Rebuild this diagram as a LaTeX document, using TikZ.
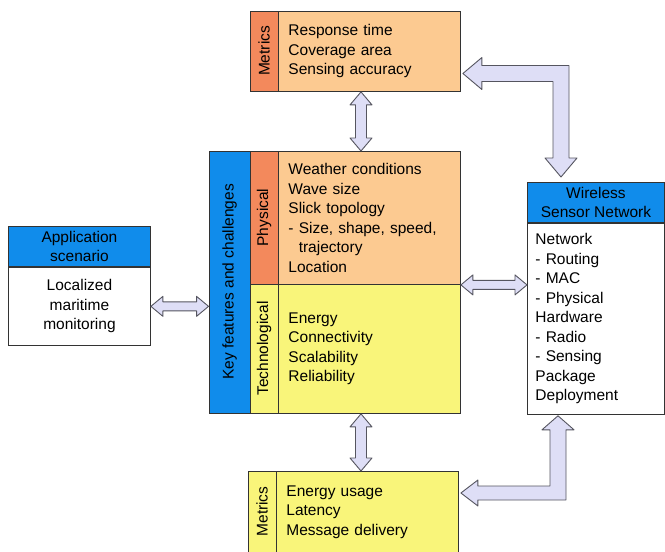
\documentclass[tikz,border=0pt]{standalone}
\usepackage{fontspec}
\setmainfont{Liberation Sans}
\usetikzlibrary{positioning, calc}

\definecolor{headblue}{RGB}{16,140,235}
\definecolor{stripred}{RGB}{243,137,92}
\definecolor{physfill}{RGB}{252,202,145}
\definecolor{techfill}{RGB}{249,245,122}
\definecolor{arrowfill}{RGB}{222,222,246}
\definecolor{arrowdraw}{RGB}{85,85,95}

% fat double arrows, vertical (top to bottom) and horizontal (left to right)
\newcommand{\vdouble}[2]{%
  \path[fat] (#1) -- ($(#1)+(11,13)$) -- ($(#1)+(5.5,13)$) -- ($(#2)+(5.5,-13)$) -- ($(#2)+(11,-13)$) -- (#2)
    -- ($(#2)+(-11,-13)$) -- ($(#2)+(-5.5,-13)$) -- ($(#1)+(-5.5,13)$) -- ($(#1)+(-11,13)$) -- cycle;}
\newcommand{\hdouble}[2]{%
  \path[fat] (#1) -- ($(#1)+(12,-10)$) -- ($(#1)+(12,-4.5)$) -- ($(#2)+(-12,-4.5)$) -- ($(#2)+(-12,-10)$) -- (#2)
    -- ($(#2)+(-12,10)$) -- ($(#2)+(-12,4.5)$) -- ($(#1)+(12,4.5)$) -- ($(#1)+(12,10)$) -- cycle;}

\begin{document}
\begin{tikzpicture}[
    x=1pt, y=-1pt,
    font=\fontsize{15.5}{19.5}\selectfont,
    box/.style={rectangle, draw=black!80, line width=0.9pt, inner sep=0pt},
    strip/.style={box, rotate=90},
    content/.style={box, anchor=north west, align=left, inner xsep=10pt},
    head/.style={box, anchor=north west, fill=headblue, align=center},
    fat/.style={draw=arrowdraw, fill=arrowfill, line width=0.9pt, line join=round}
]
\useasboundingbox (0,0) rectangle (665,552);

% Metrics (top)
\node[strip, fill=stripred, minimum width=80, minimum height=28] (topstrip) at (264,51) {Metrics};
\node[content, fill=physfill, minimum height=80, text width=162] (topmet) at (278,11) {Response time\\Coverage area\\Sensing accuracy};

% Key features and challenges
\node[strip, fill=headblue, minimum width=262, minimum height=41] (key) at (229.5,282) {Key features and challenges};
\node[strip, fill=stripred, minimum width=133, minimum height=28] (physstrip) at (264,217.5) {Physical};
\node[content, fill=physfill, minimum height=133, text width=162] (phys) at (278,151) {Weather conditions\\Wave size\\Slick topology\\- Size, shape, speed,\\\phantom{- }trajectory\\Location};
\node[strip, fill=techfill, minimum width=129, minimum height=28] (techstrip) at (264,348.5) {Technological};
\node[content, fill=techfill, minimum height=129, text width=162] (tech) at (278,284) {Energy\\Connectivity\\Scalability\\Reliability};

% Metrics (bottom)
\node[strip, fill=techfill, minimum width=81, minimum height=28] (botstrip) at (262,511.5) {Metrics};
\node[content, fill=techfill, minimum height=81, text width=162] (botmet) at (276,471) {Energy usage\\Latency\\Message delivery};

% Application scenario
\node[head, minimum width=142, minimum height=40] (apphead) at (8,226) {Application\\scenario};
\node[box, below=0pt of apphead, minimum width=142, minimum height=78, align=center] (app) {Localized\\maritime\\monitoring};

% Wireless Sensor Network
\node[head, minimum width=137, minimum height=40] (wsnhead) at (527,182) {Wireless\\Sensor Network};
\node[content, below=0pt of wsnhead, minimum height=191, text width=121, inner xsep=8pt] (wsn) {Network\\- Routing\\- MAC\\- Physical\\Hardware\\- Radio\\- Sensing\\Package\\Deployment};

% Connexions
\coordinate (vx) at (361,0);
\vdouble{vx |- topmet.south}{vx |- phys.north}
\vdouble{vx |- tech.south}{vx |- botmet.north}
\hdouble{app.east}{app.east -| key.north}
\hdouble{phys.south east}{phys.south east -| wsn.west}

\coordinate (tb) at (561,73.5);
\path[fat] ($(topmet.east |- tb)+(2,0)$) -- ++(19,-16) -- ++(0,8) -- ($(tb)+(8,-8)$)
  -- ($(tb |- wsnhead.north)+(8,-24)$) -- ++(8,0) -- ($(tb |- wsnhead.north)+(0,-5)$) -- ++(-16,-19) -- ++(8,0)
  -- ($(tb)+(-8,8)$) -- ($(topmet.east |- tb)+(21,8)$) -- ++(0,8) -- cycle;

\coordinate (bb) at (558,493);
\path[fat] ($(bb |- wsn.south)+(0,1)$) -- ++(16,14) -- ++(-8,0) -- ($(bb)+(8,7)$)
  -- ($(botmet.east |- bb)+(19,7)$) -- ++(0,6) -- ($(botmet.east |- bb)+(2,0)$) -- ++(17,-13) -- ++(0,6)
  -- ($(bb)+(-8,-7)$) -- ($(bb |- wsn.south)+(-8,15)$) -- ++(-8,0) -- cycle;

\end{tikzpicture}
\end{document}
